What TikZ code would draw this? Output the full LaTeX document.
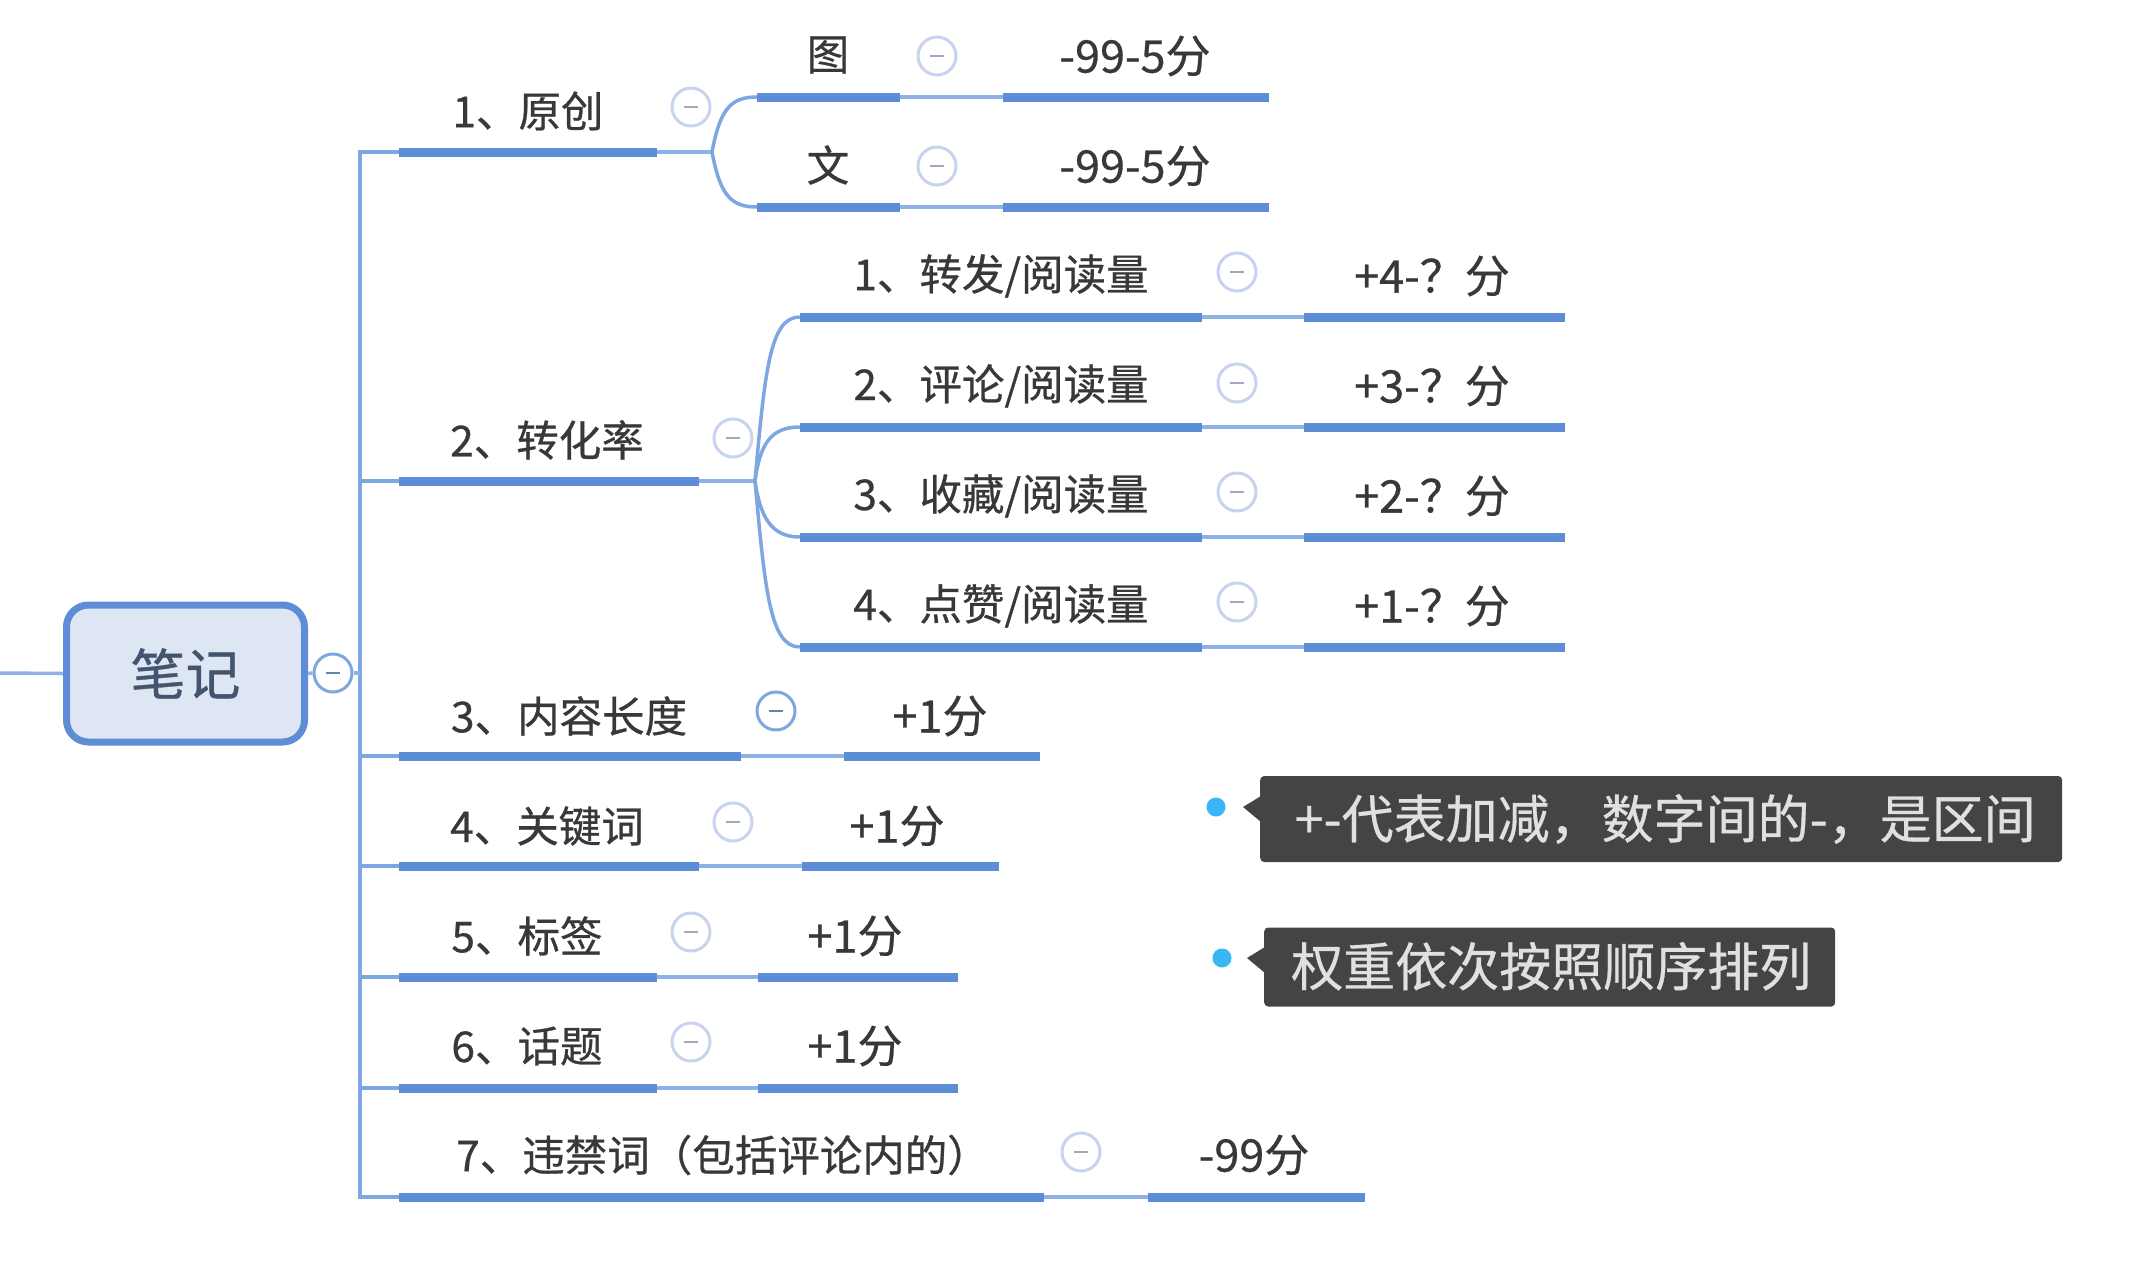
\documentclass[tikz,border=0pt]{standalone}
\usepackage{fontspec}
\setmainfont{Noto Sans CJK SC}[RawFeature={embolden=0.6}]
\definecolor{barblue}{HTML}{5C8DD6}
\definecolor{linkblue}{HTML}{8DB2E6}
\definecolor{trunkblue}{HTML}{7EA6E0}
\definecolor{rootfill}{HTML}{DFE6F3}
\definecolor{ringpale}{HTML}{C9D3EF}
\definecolor{noteback}{HTML}{444444}
\definecolor{notedot}{HTML}{38B6F5}
\definecolor{roottext}{HTML}{44546E}
\tikzset{
  x=1pt,y=-1pt,
  barbox/.style={fill=barblue,draw=none,inner sep=0pt,minimum height=9pt,rectangle},
  label/.style={inner sep=0pt,text=black!78,font=\fontsize{42.5}{50}\selectfont},
  value/.style={inner sep=0pt,text=black!78,font=\fontsize{45}{52}\selectfont},
  link/.style={draw=linkblue,line width=3.5pt},
  trunk/.style={draw=trunkblue,line width=3.5pt},
  ring/.style={circle,draw=ringpale,line width=3pt,fill=white,minimum size=38pt,inner sep=0pt},
  note/.style={fill=noteback,rounded corners=4pt,inner sep=0pt,text=black!12,anchor=west,font=\fontsize{52}{60}\selectfont},
  notedotstyle/.style={circle,fill=notedot,minimum size=19pt,inner sep=0pt},
  rootbox/.style={draw=barblue,fill=rootfill,line width=7pt,rounded corners=22pt,inner sep=0pt,text=roottext,font=\fontsize{55}{64}\selectfont},
}
% name, x-left, x-right, y
\newcommand{\barat}[4]{%
  \pgfmathsetmacro{\barw}{#3-#2}\pgfmathsetmacro{\barc}{(#3+#2)/2}%
  \node[barbox,minimum width=\barw pt] (#1) at (\barc,#4) {};}
% name, x, y, colour
\newcommand{\ringat}[4][ringpale]{%
  \node[ring,draw=#1] (#2) at (#3,#4) {};
  \draw[line width=2.5pt,draw=#1!80!black] ([xshift=-7pt]#2.center) -- ([xshift=7pt]#2.center);}
\begin{document}
\begin{tikzpicture}
\useasboundingbox[fill=white] (0,0) rectangle (2145,1280);
% root
\node[rootbox,minimum width=238pt,minimum height=137pt] (root) at (185.5,673.5) {笔记};
\coordinate (leftend) at (0,673);
\draw[link] (leftend) -- (root.west);
\coordinate (tt) at (360,152);
\coordinate (tb) at (360,1197);
% first-level bars
\barat{r1}{399}{657}{152}
\barat{r2}{399}{699}{481}
\barat{r3}{399}{741}{756}
\barat{r4}{399}{699}{866}
\barat{r5}{399}{657}{977}
\barat{r6}{399}{657}{1088}
\barat{r7}{399}{1044}{1197}
% trunk
\draw[trunk] (r1.west) -- (tt) -- (tb) -- (r7.west);
\foreach \r in {r2,r3,r4,r5,r6} \draw[trunk] (tt |- \r.west) -- (\r.west);
\ringat[trunkblue]{c0}{333}{673}
\draw[link] (root.east) -- (c0.west);
\draw[link] (c0.east) -- (tt |- c0.east);
% first-level labels and rings
\node[label] (t1) at (528,111) {1、原创};
\node[label] (t2) at (547,440) {2、转化率};
\node[label] (t3) at (569,716) {3、内容长度};
\node[label] (t4) at (547,826) {4、关键词};
\node[label] (t5) at (527,936) {5、标签};
\node[label] (t6) at (527,1046) {6、话题};
\node[label] (t7) at (723,1155) {7、违禁词（包括评论内的）};
\ringat{c1}{691}{107}
\ringat{c2}{733}{438}
\ringat[trunkblue]{c3}{776}{711}
\ringat{c4}{733}{822}
\ringat{c5}{691}{932}
\ringat{c6}{691}{1042}
\ringat{c7}{1081}{1152}
% value bars for rows 3..7
\barat{v3}{844}{1040}{756}
\barat{v4}{802}{999}{866}
\barat{v5}{758}{958}{977}
\barat{v6}{758}{958}{1088}
\barat{v7}{1148}{1365}{1197}
\foreach \a/\b in {r3/v3,r4/v4,r5/v5,r6/v6,r7/v7} \draw[link] (\a.east) -- (\b.west);
\node[value] (w3) at (940,716) {+1分};
\node[value] (w4) at (897,826) {+1分};
\node[value] (w5) at (855,936) {+1分};
\node[value] (w6) at (855,1046) {+1分};
\node[value] (w7) at (1254,1155) {-99分};
% branch 1
\barat{a1}{757}{900}{97}
\barat{a2}{757}{900}{207}
\barat{b1}{1003}{1269}{97}
\barat{b2}{1003}{1269}{207}
\coordinate (j1) at (712,152);
\draw[link] (r1.east) -- (j1);
\draw[trunk] (j1) .. controls (720,110) and (730,97) .. (a1.west);
\draw[trunk] (j1) .. controls (720,194) and (730,207) .. (a2.west);
\draw[link] (a1.east) -- (b1.west);
\draw[link] (a2.east) -- (b2.west);
\node[label] (at1) at (828,55) {图};
\node[label] (at2) at (828,165) {文};
\ringat{ca1}{937}{56}
\ringat{ca2}{937}{166}
\node[value] (bt1) at (1135,56) {-99-5分};
\node[value] (bt2) at (1135,166) {-99-5分};
% branch 2
\barat{d1}{800}{1202}{317}
\barat{d2}{800}{1202}{427}
\barat{d3}{800}{1202}{537}
\barat{d4}{800}{1202}{647}
\barat{e1}{1304}{1565}{317}
\barat{e2}{1304}{1565}{427}
\barat{e3}{1304}{1565}{537}
\barat{e4}{1304}{1565}{647}
\coordinate (j2) at (755,481);
\draw[link] (r2.east) -- (j2);
\draw[trunk] (j2) .. controls (765,370) and (770,317) .. (d1.west);
\draw[trunk] (j2) .. controls (760,445) and (770,427) .. (d2.west);
\draw[trunk] (j2) .. controls (760,515) and (770,537) .. (d3.west);
\draw[trunk] (j2) .. controls (765,590) and (770,647) .. (d4.west);
\foreach \a/\b in {d1/e1,d2/e2,d3/e3,d4/e4} \draw[link] (\a.east) -- (\b.west);
\node[label] (dt1) at (1001,276) {1、转发/阅读量};
\node[label] (dt2) at (1001,386) {2、评论/阅读量};
\node[label] (dt3) at (1001,496) {3、收藏/阅读量};
\node[label] (dt4) at (1001,606) {4、点赞/阅读量};
\ringat{cd1}{1237}{272}
\ringat{cd2}{1237}{383}
\ringat{cd3}{1237}{492}
\ringat{cd4}{1237}{602}
\node[value] (et1) at (1432,276) {+4-？分};
\node[value] (et2) at (1432,386) {+3-？分};
\node[value] (et3) at (1432,496) {+2-？分};
\node[value] (et4) at (1432,606) {+1-？分};
% notes
\node[note,minimum width=802pt,minimum height=86pt] (n1) at (1260,819) {\hspace{8pt}\raisebox{-2pt}{+-代表加减，数字间的-，是区间}};
\fill[noteback] (1261,796) -- (1243,807) -- (1261,822) -- cycle;
\node[notedotstyle] (p1) at (1216,807) {};
\node[note,minimum width=571pt,minimum height=79pt] (n2) at (1264,967) {\hspace{3pt}\raisebox{6pt}{权重依次按照顺序排列}};
\fill[noteback] (1265,947) -- (1247,958) -- (1265,973) -- cycle;
\node[notedotstyle] (p2) at (1222,958) {};
\end{tikzpicture}
\end{document}
